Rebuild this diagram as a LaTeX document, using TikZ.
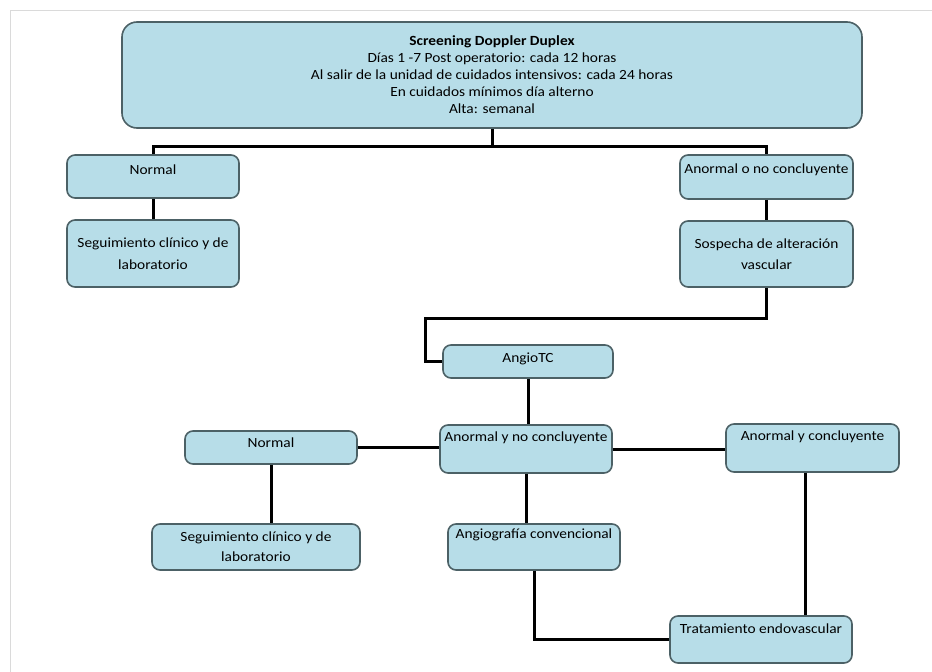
\documentclass[tikz,border=0pt]{standalone}
\usepackage{fontspec}
\setmainfont{Carlito}[FakeStretch=1.1]
\usepackage{tikz}
\definecolor{boxfill}{HTML}{B7DDE8}
\definecolor{boxline}{HTML}{4C6166}
\definecolor{framegray}{HTML}{DADADA}
\tikzset{
  box/.style={draw=boxline, line width=1.6pt, fill=boxfill, rounded corners=8pt,
    align=center, inner xsep=2pt, inner ysep=0pt, font=\fontsize{14}{17}\selectfont},
  conn/.style={line width=3pt, black}
}
\begin{document}
\begin{tikzpicture}[x=1pt,y=-1pt]
\useasboundingbox (0,0) rectangle (932,672);
\draw[framegray, line width=1pt] (932,10) -- (10,10) -- (10,672);

% first level
\node[box, rounded corners=15pt, minimum width=740pt, minimum height=106pt] (screen) at (492,75) {%
  \textbf{Screening Doppler Duplex}\\
  Días 1 -7 Post operatorio: cada 12 horas\\
  Al salir de la unidad de cuidados intensivos: cada 24 horas\\
  En cuidados mínimos día alterno\\
  Alta: semanal};

\node[box, minimum width=172pt, text height=19.5pt, text depth=23.5pt] (normA) at (153,176.5) {Normal};
\node[box, minimum width=172pt, minimum height=67pt] (segA) at (153,253.5) {Seguimiento clínico y de\\[5pt]laboratorio};
\node[box, minimum width=173pt, text height=18.5pt, text depth=25.5pt] (anormA) at (766.5,177) {Anormal o no concluyente};
\node[box, minimum width=173pt, minimum height=66pt] (sosp) at (766.5,254) {Sospecha de alteración\\[4pt]vascular};

% angio
\node[box, minimum width=170pt, text height=17.5pt, text depth=15.5pt] (angiotc) at (528,361.5) {AngioTC};
\node[box, minimum width=172pt, text height=16.5pt, text depth=16.5pt] (normB) at (271,447.5) {Normal};
\node[box, minimum width=172pt, text height=16.5pt, text depth=31.5pt] (anormNo) at (526,449) {Anormal y no concluyente};
\node[box, minimum width=173pt, text height=16.5pt, text depth=31.5pt] (anormSi) at (812.5,448) {Anormal y concluyente};
\node[box, minimum width=208pt, minimum height=46pt] (segB) at (256,547) {Seguimiento clínico y de\\[3pt]laboratorio};
\node[box, minimum width=172pt, text height=14.5pt, text depth=31.5pt] (angiog) at (534,547) {Angiografía convencional};
\node[box, minimum width=182pt, text height=17.5pt, text depth=29.5pt] (trat) at (761,639.5) {Tratamiento endovascular};

% connectors
\coordinate (split) at (492,146);
\coordinate (bend) at (425,318);
\draw[conn] (screen.south) -- (split) -| (normA.north);
\draw[conn] (split) -| (anormA.north);
\draw[conn] (normA) -- (segA);
\draw[conn] (anormA) -- (sosp);
\draw[conn] (sosp.south) |- (bend) |- (angiotc.west);
\draw[conn] (angiotc.south) -- (angiotc.south |- anormNo.north);
\draw[conn] (normB.east) -- (normB.east -| anormNo.west);
\draw[conn] (anormNo.east) -- (anormNo.east -| anormSi.west);
\draw[conn] (normB.south) -- (normB.south |- segB.north);
\draw[conn] (anormNo.south) -- (anormNo.south |- angiog.north);
\draw[conn] (angiog.south) |- (trat.west);
\draw[conn] ([xshift=-7pt]anormSi.south) -- ([xshift=-7pt]anormSi.south |- trat.north);
\end{tikzpicture}
\end{document}
